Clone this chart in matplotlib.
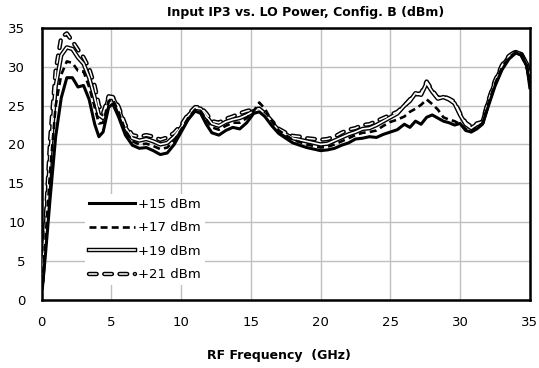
import matplotlib
matplotlib.use("Agg")
import matplotlib.pyplot as plt
from matplotlib.lines import Line2D
from matplotlib.legend_handler import HandlerTuple

plt.rcParams['font.family'] = ['DejaVu Sans']
plt.rcParams['lines.scale_dashes'] = False

# RF frequency (GHz)
freq = [0.05, 0.3, 0.6, 1.0, 1.4, 1.8, 2.2, 2.6, 3.0, 3.4,
        3.8, 4.1, 4.4, 4.8, 5.1, 5.5, 6.0, 6.5, 7.0, 7.5,
        8.0, 8.5, 9.0, 9.5, 10.0, 10.5, 11.0, 11.4, 11.8, 12.2,
        12.7, 13.2, 13.7, 14.2, 14.7, 15.2, 15.6, 16.0, 16.5, 17.0,
        17.5, 18.0, 18.5, 19.0, 19.5, 20.0, 20.5, 21.0, 21.5, 22.0,
        22.5, 23.0, 23.5, 24.0, 24.5, 25.0, 25.5, 26.0, 26.4, 26.8,
        27.2, 27.6, 28.0, 28.4, 28.8, 29.2, 29.6, 30.0, 30.4, 30.8,
        31.2, 31.6, 32.0, 32.5, 33.0, 33.5, 34.0, 34.4, 34.8, 35.0]

# input IP3 (dBm) per LO power
iip3_15 = [1.5, 6.5, 13.0, 21.0, 26.0, 28.6, 28.6, 27.4, 27.6, 25.8,
           22.6, 21.0, 21.6, 24.8, 25.2, 23.6, 21.2, 19.9, 19.5, 19.6,
           19.2, 18.7, 18.9, 20.0, 21.6, 23.2, 24.3, 24.0, 22.6, 21.5,
           21.2, 21.8, 22.2, 22.0, 22.8, 24.0, 24.2, 23.6, 22.4, 21.4,
           20.8, 20.2, 19.9, 19.6, 19.4, 19.2, 19.3, 19.5, 19.9, 20.2,
           20.7, 20.8, 21.0, 20.9, 21.3, 21.6, 21.9, 22.6, 22.2, 23.0,
           22.6, 23.5, 23.8, 23.4, 23.0, 22.8, 22.5, 22.7, 21.8, 21.6,
           22.0, 22.6, 24.8, 27.5, 29.6, 31.0, 31.8, 31.5, 30.0, 27.3]
iip3_17 = [2.0, 8.5, 16.5, 25.0, 29.0, 30.7, 30.5, 29.5, 29.4, 27.4,
           24.8, 22.7, 22.8, 25.6, 25.8, 24.2, 21.8, 20.4, 20.0, 20.1,
           19.8, 19.4, 19.6, 20.5, 21.9, 23.4, 24.5, 24.3, 23.2, 22.2,
           21.9, 22.4, 22.8, 22.8, 23.4, 24.3, 25.4, 24.6, 23.0, 21.8,
           21.2, 20.6, 20.3, 20.0, 19.8, 19.6, 19.7, 20.0, 20.4, 20.8,
           21.2, 21.5, 21.6, 21.8, 22.4, 22.9, 23.2, 23.6, 24.2, 24.6,
           25.1, 25.8, 25.2, 24.5, 23.5, 23.2, 23.0, 22.6, 22.0, 21.6,
           22.3, 22.7, 25.1, 27.8, 29.9, 31.2, 31.9, 31.6, 30.1, 28.0]
iip3_19 = [2.5, 9.5, 18.5, 27.5, 31.5, 32.5, 32.3, 31.2, 30.4, 28.6,
           26.0, 23.8, 23.4, 26.0, 26.0, 24.6, 22.2, 20.8, 20.5, 20.7,
           20.4, 20.0, 20.2, 21.0, 22.2, 23.7, 24.7, 24.6, 23.6, 22.7,
           22.4, 22.9, 23.2, 23.4, 23.8, 24.3, 24.4, 23.8, 22.8, 21.8,
           21.3, 20.8, 20.6, 20.4, 20.2, 20.0, 20.1, 20.5, 20.9, 21.3,
           21.6, 22.0, 22.1, 22.5, 23.0, 23.5, 24.0, 25.0, 25.6, 26.6,
           26.4, 27.9, 26.8, 25.9, 26.1, 25.8, 25.3, 23.8, 22.6, 22.1,
           22.6, 22.8, 25.3, 28.0, 30.0, 31.3, 31.9, 31.6, 30.3, 28.4]
iip3_21 = [3.0, 10.5, 20.5, 29.5, 33.8, 34.3, 33.3, 32.2, 31.2, 29.8,
           27.5, 25.0, 24.0, 26.2, 26.1, 24.9, 22.5, 21.2, 21.0, 21.2,
           21.0, 20.6, 20.9, 21.5, 22.5, 23.9, 24.8, 24.8, 24.0, 23.0,
           22.8, 23.3, 23.6, 24.0, 24.3, 24.5, 24.6, 24.0, 23.0, 22.0,
           21.5, 21.1, 21.0, 20.8, 20.7, 20.6, 20.7, 21.0, 21.5, 21.9,
           22.1, 22.5, 22.6, 23.0, 23.4, 23.8, 24.2, 25.0, 25.8, 26.4,
           26.6, 28.1, 27.0, 26.0, 26.2, 25.9, 25.5, 24.0, 22.8, 22.3,
           22.7, 22.9, 25.5, 28.2, 30.2, 31.4, 32.0, 31.6, 30.2, 28.8]

labels = ["+15 dBm", "+17 dBm", "+19 dBm", "+21 dBm"]

# line styles
solid_kw = dict(color='black', lw=2.2)
dash17_kw = dict(color='black', lw=1.9, linestyle=(0, (5, 3)))
outer19_kw = dict(color='black', lw=3.2)
inner19_kw = dict(color='white', lw=1.2)
outer21_kw = dict(color='black', lw=3.2, linestyle=(0, (5.5, 5.5)),
                  dash_capstyle='round')
inner21_kw = dict(color='white', lw=1.1, linestyle=(0, (5.5, 5.5)),
                  dash_capstyle='round')

fig = plt.figure(figsize=(5.39, 3.68), dpi=100)
ax = fig.add_axes([0.0774, 0.1856, 0.9056, 0.7383])

ax.plot(freq, iip3_19, zorder=3, **outer19_kw)
ax.plot(freq, iip3_19, zorder=4, **inner19_kw)
ax.plot(freq, iip3_21, zorder=3, **outer21_kw)
ax.plot(freq, iip3_21, zorder=4, **inner21_kw)
ax.plot(freq, iip3_15, zorder=5, **solid_kw)
ax.plot(freq, iip3_17, zorder=6, **dash17_kw)

ax.set_xlim(0, 35)
ax.set_ylim(0, 35)
ax.set_xticks(range(0, 36, 5))
ax.set_yticks(range(0, 36, 5))
ax.grid(True, color='#bfbfbf', lw=1.0)
ax.set_axisbelow(True)
ax.tick_params(length=0, labelsize=9.5, pad=12)
for sp in ax.spines.values():
    sp.set_linewidth(1.8)
    sp.set_color('black')

h15 = Line2D([], [], **solid_kw)
h17 = Line2D([], [], **dash17_kw)
h19 = (Line2D([], [], **outer19_kw), Line2D([], [], **inner19_kw))
h21 = (Line2D([], [], **outer21_kw), Line2D([], [], **inner21_kw))
leg = ax.legend([h15, h17, h19, h21], labels,
                handler_map={tuple: HandlerTuple(ndivide=1, pad=0)},
                loc='upper left', bbox_to_anchor=(0.088, 0.39),
                fontsize=9.5, handlelength=3.5, handletextpad=0.25,
                labelspacing=0.8, frameon=True, fancybox=False,
                borderpad=0.3, borderaxespad=0)
leg.get_frame().set_facecolor('white')
leg.get_frame().set_edgecolor('none')
leg.get_frame().set_alpha(1)
leg.set_zorder(10)

fig.text(306 / 539, 1 - 16 / 368, "Input IP3 vs. LO Power, Config. B (dBm)",
         ha='center', va='baseline', fontsize=9, fontweight='bold')
fig.text(278.5 / 539, 1 - 359 / 368, "RF Frequency  (GHz)",
         ha='center', va='baseline', fontsize=9, fontweight='bold')

fig.savefig("out.png", dpi=100)
